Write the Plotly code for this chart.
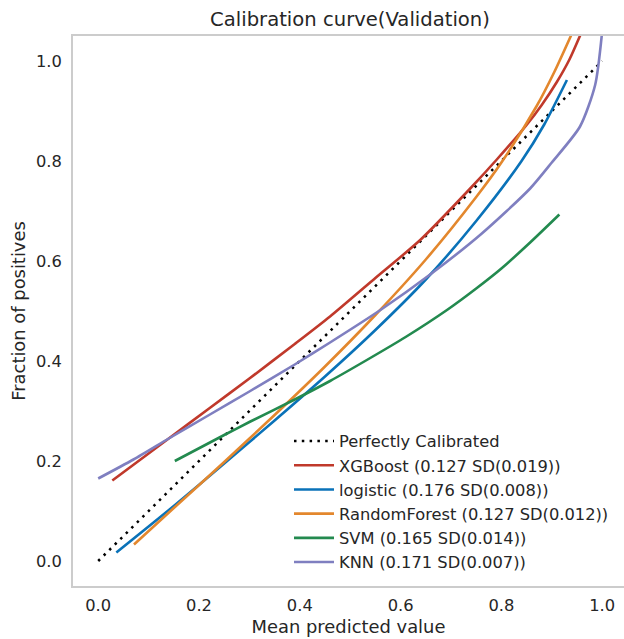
import plotly.graph_objects as go

# ---------------- data ----------------
perfect_x = [0.0, 1.0]
perfect_y = [0.0, 1.0]

xgb_x = [0.028, 0.14, 0.22, 0.30, 0.39, 0.46, 0.55, 0.64, 0.74, 0.79, 0.85, 0.88, 0.91, 0.935, 0.96]
xgb_y = [0.161, 0.245, 0.305, 0.365, 0.434, 0.489, 0.566, 0.643, 0.747, 0.802, 0.872, 0.912, 0.958, 1.003, 1.06]

log_x = [0.036, 0.15, 0.25, 0.35, 0.45, 0.55, 0.65, 0.75, 0.84, 0.885, 0.93]
log_y = [0.017, 0.11, 0.195, 0.281, 0.369, 0.462, 0.563, 0.68, 0.80, 0.873, 0.962]

rf_x = [0.071, 0.15, 0.25, 0.35, 0.45, 0.55, 0.65, 0.75, 0.80, 0.87, 0.905, 0.94]
rf_y = [0.033, 0.106, 0.198, 0.292, 0.389, 0.492, 0.603, 0.728, 0.797, 0.91, 0.978, 1.055]

svm_x = [0.152, 0.25, 0.30, 0.39, 0.46, 0.533, 0.61, 0.692, 0.75, 0.80, 0.857, 0.915]
svm_y = [0.200, 0.252, 0.278, 0.323, 0.36, 0.402, 0.448, 0.502, 0.545, 0.585, 0.637, 0.693]

knn_x = [0.0, 0.07, 0.14, 0.22, 0.30, 0.39, 0.46, 0.56, 0.66, 0.76, 0.857, 0.90, 0.956, 0.986, 1.0]
knn_y = [0.165, 0.203, 0.245, 0.292, 0.339, 0.393, 0.437, 0.502, 0.574, 0.654, 0.745, 0.797, 0.869, 0.952, 1.06]

names = [
    "XGBoost (0.127 SD(0.019))",
    "logistic (0.176 SD(0.008))",
    "RandomForest (0.127 SD(0.012))",
    "SVM (0.165 SD(0.014))",
    "KNN (0.171 SD(0.007))",
]
colors = ["#C0392B", "#0A72B8", "#E3872D", "#238A4F", "#7F7FC0"]
series_x = [xgb_x, log_x, rf_x, svm_x, knn_x]
series_y = [xgb_y, log_y, rf_y, svm_y, knn_y]

x_ticks = [0.0, 0.2, 0.4, 0.6, 0.8, 1.0]
y_ticks = [0.0, 0.2, 0.4, 0.6, 0.8, 1.0]

FONT = "DejaVu Sans"
TXT = "#262626"
SPINE = "#cccccc"

fig = go.Figure()
fig.add_trace(go.Scatter(
    x=perfect_x, y=perfect_y, mode="lines", name="Perfectly Calibrated",
    line=dict(color="black", width=2.5, dash="2.5px,5.3px"),
))
for nm, c, xs, ys in zip(names, colors, series_x, series_y):
    fig.add_trace(go.Scatter(
        x=xs, y=ys, mode="lines", name=nm,
        line=dict(color=c, width=2.6, shape="spline", smoothing=0.7),
    ))

fig.update_layout(
    width=624, height=639,
    margin=dict(l=73, r=0, t=36, b=53, autoexpand=False),
    paper_bgcolor="white", plot_bgcolor="white",
    font=dict(family=FONT, size=16.3, color=TXT),
    title=dict(text="Calibration curve(Validation)", x=350 / 624, xref="container",
               xanchor="center", y=1 - 19 / 639, yref="container", yanchor="middle",
               font=dict(family=FONT, size=19.6, color=TXT)),
    showlegend=True,
    legend=dict(x=(289 - 73) / 551, xanchor="left", y=(586 - 424) / 550, yanchor="top",
                bgcolor="rgba(255,255,255,0)", borderwidth=0, itemwidth=40,
                font=dict(family=FONT, size=16.3, color=TXT)),
)
fig.update_xaxes(
    range=[-0.05, -0.05 + 551 / 504], tickvals=x_ticks, ticktext=[f"{v:.1f}" for v in x_ticks],
    showgrid=False, zeroline=False, showline=True, linecolor=SPINE, linewidth=1.8, mirror=True,
    ticks="", ticklabelstandoff=4, automargin=False,
    tickfont=dict(family=FONT, size=16.3, color=TXT),
    title=dict(text="Mean predicted value", font=dict(family=FONT, size=17.9, color=TXT), standoff=6),
)
fig.update_yaxes(
    range=[-0.05, 1.05], tickvals=y_ticks, ticktext=[f"{v:.1f}" for v in y_ticks],
    showgrid=False, zeroline=False, showline=True, linecolor=SPINE, linewidth=1.8, mirror=False,
    ticks="", ticklabelstandoff=6, automargin=False,
    tickfont=dict(family=FONT, size=16.3, color=TXT),
    title=dict(text="Fraction of positives", font=dict(family=FONT, size=17.9, color=TXT), standoff=6),
)

fig.write_html("out.html", config={"displayModeBar": False},
               post_script="document.body.style.margin='0';document.body.style.overflow='hidden';")
